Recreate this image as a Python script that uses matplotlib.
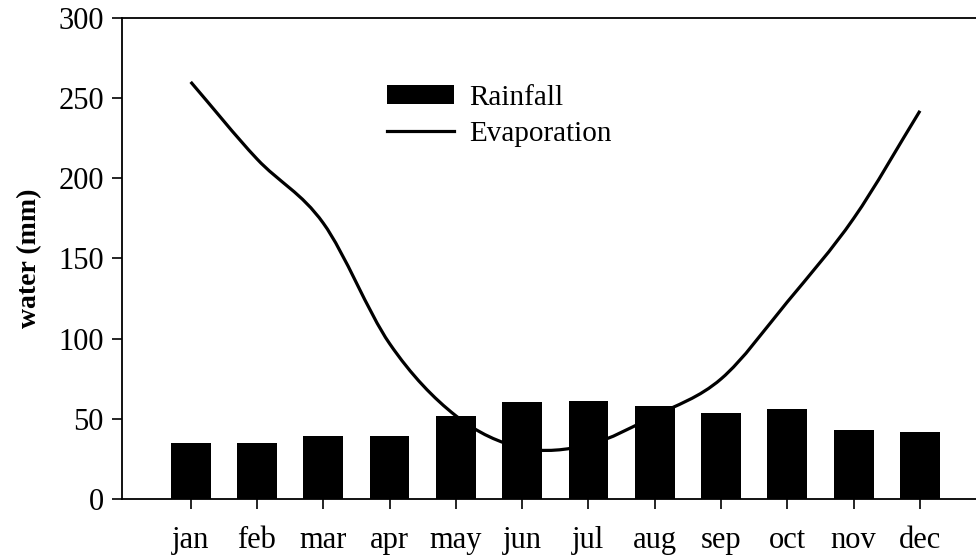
import numpy as np
import matplotlib
matplotlib.use('Agg')
from matplotlib import pyplot as plt
from matplotlib.path import Path
from matplotlib.patches import PathPatch
from matplotlib.lines import Line2D

plt.rcParams['font.family'] = 'Liberation Serif'

months = ['jan', 'feb', 'mar', 'apr', 'may', 'jun',
          'jul', 'aug', 'sep', 'oct', 'nov', 'dec']
rainfall = [35, 35, 39.5, 39.5, 52, 60.5, 61, 58, 54, 56, 43, 42]
evaporation = [260, 212, 172, 97, 52, 32, 34, 52, 75, 123, 175, 242]

x = np.arange(len(months))
ev = np.array(evaporation, dtype=float)

# smooth curve through the monthly evaporation values (cubic Hermite -> Bezier)
m = np.zeros_like(ev)
m[1:-1] = (ev[2:] - ev[:-2]) / 2.0
m[0] = ev[1] - ev[0]
m[-1] = ev[-1] - ev[-2]
verts = [(x[0], ev[0])]
codes = [Path.MOVETO]
for i in range(len(x) - 1):
    verts += [(x[i] + 1/3, ev[i] + m[i]/3),
              (x[i+1] - 1/3, ev[i+1] - m[i+1]/3),
              (x[i+1], ev[i+1])]
    codes += [Path.CURVE4] * 3

fig = plt.figure(figsize=(9.76, 5.58), dpi=100)
ax = fig.add_axes([0.125, 0.1052, 0.875, 0.8631])

bars = ax.bar(x, rainfall, width=0.6, color='black', zorder=2)
curve = PathPatch(Path(verts, codes), facecolor='none', edgecolor='black',
                  lw=2.3, zorder=3)
ax.add_patch(curve)

ax.set_xlim(-1.036, 11.845)
ax.set_ylim(0, 300)
ax.set_xticks(x)
ax.set_xticklabels(months)
ax.set_yticks(np.arange(0, 301, 50))
ax.tick_params(direction='out', length=7, width=1.2, labelsize=22, pad=6)
ax.tick_params(axis='x', pad=12)
ax.spines['right'].set_visible(False)
for s in ['left', 'top', 'bottom']:
    ax.spines[s].set_linewidth(1.3)
ax.set_ylabel('water (mm)', fontsize=20, fontweight='bold', labelpad=12)

evap_handle = Line2D([], [], color='black', lw=2.3)
ax.legend([bars, evap_handle], ['Rainfall', 'Evaporation'],
          loc='upper left', bbox_to_anchor=(0.279, 0.915), frameon=False,
          fontsize=21, handlelength=2.3, handleheight=0.6,
          handletextpad=0.55, labelspacing=0.35)

fig.savefig('out.png', dpi=100)
